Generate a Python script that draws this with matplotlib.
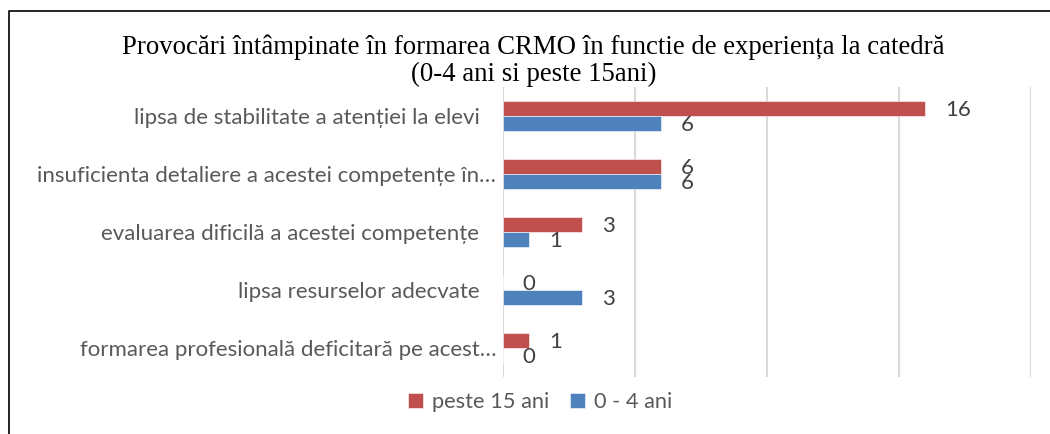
import numpy as np
import matplotlib
matplotlib.use('Agg')
import matplotlib.pyplot as plt
import matplotlib.transforms as mtransforms
from matplotlib.lines import Line2D

# data
categories = ['lipsa de stabilitate a atenției la elevi',
              'insuficienta detaliere a acestei competențe în…',
              'evaluarea dificilă a acestei competențe',
              'lipsa resurselor adecvate',
              'formarea profesională deficitară pe acest…']
peste15 = [16, 6, 3, 0, 1]
ani04 = [6, 6, 1, 3, 0]
series_names = ['peste 15 ani', '0 - 4 ani']

red = '#C0504D'
blue = '#4F81BD'
grey = '#595959'

plt.rcParams['font.family'] = ['Lato', 'DejaVu Sans']

fig = plt.figure(figsize=(10.5, 4.34), dpi=100)
ax = fig.add_axes([503/1050, 1-377/434, (1031-503)/1050, (377-87)/434])

y = np.arange(len(categories))
h = 0.26
b1 = ax.barh(y - h/2, peste15, height=h, color=red, edgecolor='white', linewidth=0.4, label=series_names[0], zorder=3)
b2 = ax.barh(y + h/2, ani04, height=h, color=blue, edgecolor='white', linewidth=0.4, label=series_names[1], zorder=3)

for bars in (b1, b2):
    for rect in bars:
        v = rect.get_width()
        ax.annotate('%d' % v, (v, rect.get_y() + rect.get_height()/2),
                    xytext=(14, -1), textcoords='offset points',
                    ha='left', va='center', fontsize=16, color='#404040')

ax.set_xlim(0, 20)
ax.set_ylim(len(categories) - 0.5, -0.5)
ax.set_xticks([0, 5, 10, 15, 20])
ax.xaxis.grid(True, color='#D9D9D9', linewidth=1.5, zorder=0)
ax.tick_params(axis='x', length=0, labelbottom=False)
ax.set_yticks(y)
ax.set_yticklabels(categories, fontsize=16, color=grey)
ax.tick_params(axis='y', length=0, pad=17)
for lab in ax.get_yticklabels():
    if lab.get_text().endswith('…'):
        lab.set_transform(lab.get_transform() + mtransforms.ScaledTranslation(12/72, 0, fig.dpi_scale_trans))
for s in ax.spines.values():
    s.set_visible(False)

fig.text(0.508, 1-61/434, 'Provocări întâmpinate în formarea CRMO în functie de experiența la catedră\n(0-4 ani si peste 15ani)',
         ha='center', va='center', fontsize=19.3, family='Liberation Serif', linespacing=1.1)

leg = fig.legend(loc='center', bbox_to_anchor=(540/1050, 1-402/434), ncol=2, frameon=False,
                 fontsize=15.7, handlelength=0.7, handleheight=0.7, handletextpad=0.4, columnspacing=0.95)
for t in leg.get_texts():
    t.set_color(grey)

# outer frame (only left and top edges are visible in the crop)
fig.add_artist(Line2D([8.5/1050, 8.5/1050, 1], [0, 1-10.5/434, 1-10.5/434], transform=fig.transFigure, color='black', linewidth=1.2))

fig.savefig('out.png', dpi=100)
